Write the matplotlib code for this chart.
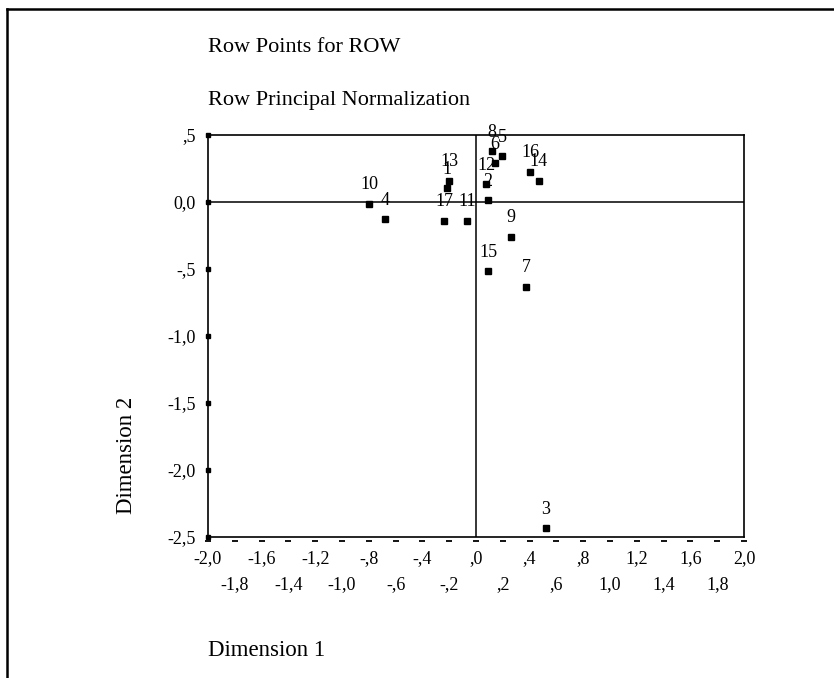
import matplotlib
matplotlib.use("Agg")
import matplotlib.pyplot as plt
from matplotlib.lines import Line2D

plt.rcParams['font.family'] = ['Liberation Serif', 'DejaVu Serif']

# row points (dimension 1, dimension 2)
point_labels = ['1', '2', '3', '4', '5', '6', '7', '8', '9', '10',
                '11', '12', '13', '14', '15', '16', '17']
dim1 = [-0.214, 0.087, 0.520, -0.679, 0.194, 0.142, 0.373, 0.117, 0.259, -0.796,
        -0.067, 0.075, -0.199, 0.468, 0.090, 0.403, -0.237]
dim2 = [0.104, 0.015, -2.433, -0.129, 0.343, 0.289, -0.632, 0.381, -0.259, -0.013,
        -0.139, 0.132, 0.159, 0.159, -0.517, 0.226, -0.139]

y_ticks = [0.5, 0.0, -0.5, -1.0, -1.5, -2.0, -2.5]
y_tick_labels = [',5', '0,0', '-,5', '-1,0', '-1,5', '-2,0', '-2,5']
x_ticks_top = [-2.0, -1.6, -1.2, -0.8, -0.4, 0.0, 0.4, 0.8, 1.2, 1.6, 2.0]
x_labels_top = ['-2,0', '-1,6', '-1,2', '-,8', '-,4', ',0', ',4', ',8', '1,2', '1,6', '2,0']
x_ticks_bottom = [-1.8, -1.4, -1.0, -0.6, -0.2, 0.2, 0.6, 1.0, 1.4, 1.8]
x_labels_bottom = ['-1,8', '-1,4', '-1,0', '-,6', '-,2', ',2', ',6', '1,0', '1,4', '1,8']

W, H = 834, 678
fig = plt.figure(figsize=(W / 100, H / 100), dpi=100)

def fx(px):
    return px / W

def fy(py):
    return 1 - py / H

# outer frame (left and top edges)
fig.add_artist(Line2D([fx(7), fx(7)], [fy(9), 0], color='black', lw=1.8))
fig.add_artist(Line2D([fx(7), 1], [fy(9), fy(9)], color='black', lw=1.8))

ax = fig.add_axes([fx(208), fy(537), fx(744) - fx(208), fy(135) - fy(537)])
ax.set_xlim(-2.0, 2.0)
ax.set_ylim(-2.5, 0.5)
for s in ax.spines.values():
    s.set_linewidth(1.2)

ax.axhline(0, color='black', lw=1.1)
ax.axvline(0, color='black', lw=1.1)

ax.set_xticks([])
ax.set_yticks(y_ticks)
ax.set_yticklabels(y_tick_labels, fontsize=13)
ax.tick_params(axis='y', length=0, pad=9)

# square tick marks on the left axis
ax.plot([-2.0] * len(y_ticks), y_ticks, 's', color='black', ms=3.5, clip_on=False)

# dash tick marks below the bottom axis every 0.2
dash_x = sorted(x_ticks_top + x_ticks_bottom)
ax.plot(dash_x, [-0.01] * len(dash_x), '_', color='black', ms=5, mew=1.3,
        transform=ax.get_xaxis_transform(), clip_on=False)

# staggered x tick labels on two rows
for x, lab in zip(x_ticks_top, x_labels_top):
    ax.text(x, -0.054, lab, transform=ax.get_xaxis_transform(),
            ha='center', va='center', fontsize=13)
for x, lab in zip(x_ticks_bottom, x_labels_bottom):
    ax.text(x, -0.119, lab, transform=ax.get_xaxis_transform(),
            ha='center', va='center', fontsize=13)

ax.plot(dim1, dim2, 's', color='black', ms=4.3, clip_on=False)
for x, y, lab in zip(dim1, dim2, point_labels):
    ax.annotate(lab, (x, y), xytext=(0, 13.5), textcoords='offset points',
                ha='center', va='center', fontsize=13)

fig.text(fx(208), fy(47), 'Row Points for ROW', ha='left', va='center', fontsize=16)
fig.text(fx(208), fy(100), 'Row Principal Normalization', ha='left', va='center', fontsize=16)
fig.text(fx(208), fy(650), 'Dimension 1', ha='left', va='center', fontsize=16.5)
fig.text(fx(126), fy(455), 'Dimension 2', ha='center', va='center', rotation=90, fontsize=16.5)

fig.savefig('out.png', dpi=100)
